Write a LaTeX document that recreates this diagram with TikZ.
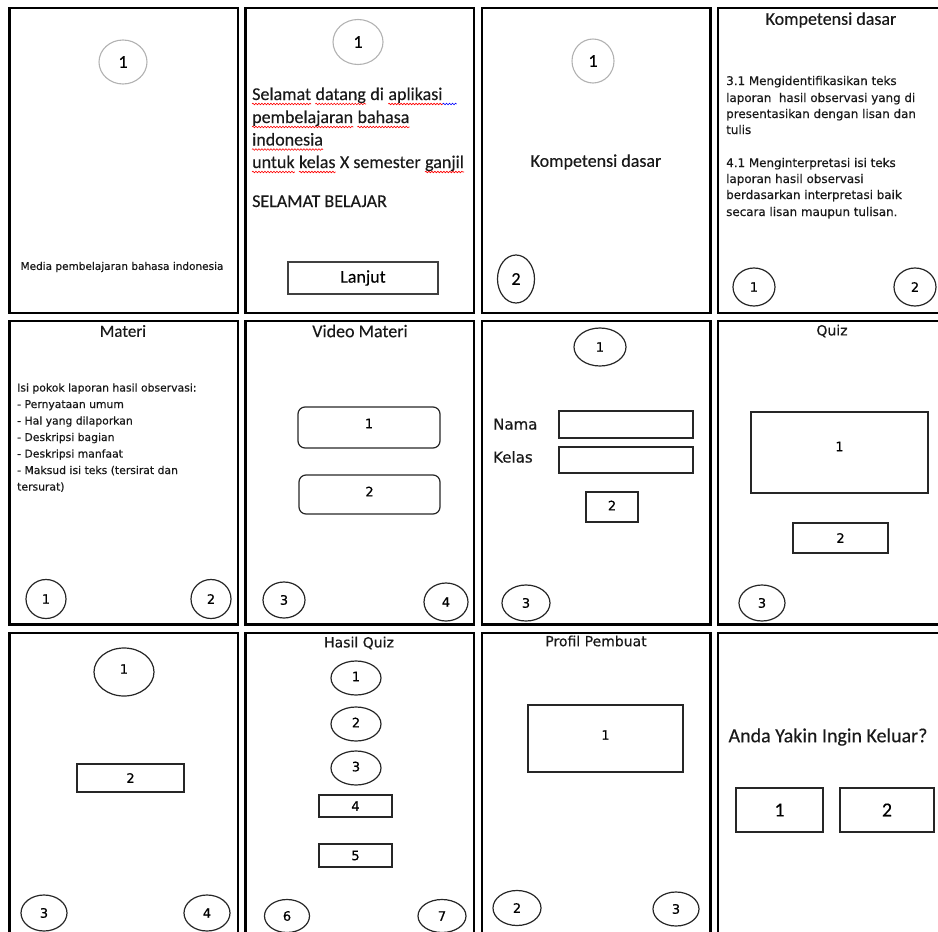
\documentclass[tikz,border=0pt]{standalone}
\usepackage{fontspec}
\setmainfont{Carlito}[FakeBold=0.25]
\newfontfamily\dvs{DejaVu Sans}[FakeBold=0.5]
\usetikzlibrary{shapes.geometric,decorations.pathmorphing}
\begin{document}
\begin{tikzpicture}[x=1pt,y=-1pt,
  frame/.style={draw=black, line width=2.8pt},
  sz/.style 2 args={minimum width=#1, minimum height=#2},
  gcirc/.style={ellipse, draw=black!30, line width=1.1pt, inner sep=0pt},
  bcirc/.style={ellipse, draw=black!85, line width=1.2pt, inner sep=0pt},
  box/.style={rectangle, draw=black!85, line width=1.2pt, inner sep=0pt},
  rbox/.style={rectangle, rounded corners=7pt, draw=black!85, line width=1.2pt, inner sep=0pt},
  cal/.style={font=\fontsize{18}{22}\selectfont},
  calb/.style={font=\fontsize{20}{24}\selectfont},
  dv/.style={font=\dvs\fontsize{13}{16}\selectfont},
  dvtitle/.style={font=\dvs\fontsize{14}{17}\selectfont},
  dvsmall/.style={font=\dvs\fontsize{11.9}{15}\selectfont},
  dvlist/.style={font=\dvs\fontsize{10.8}{14}\selectfont},
  txt/.style={inner sep=0pt, text=black!90},
  wword/.style={txt, cal, anchor=base west},
  raise/.style={text depth=#1},
  redwave/.style={red, line width=0.6pt, decorate, decoration={snake, amplitude=0.8pt, segment length=3pt}},
  bluewave/.style={redwave, blue},
]
\useasboundingbox (0,0) rectangle (938,932);
\clip (0,0) rectangle (938,932);
% frames
\draw[frame] (9.5,8) rectangle (238,313);
\draw[frame] (245.5,8) rectangle (474,313);
\draw[frame] (482,8) rectangle (710.5,313);
\draw[frame] (718,8) rectangle (950,313);
\draw[frame] (9.5,321) rectangle (238,624.5);
\draw[frame] (245.5,321) rectangle (474,624.5);
\draw[frame] (482,321) rectangle (710.5,624.5);
\draw[frame] (718,321) rectangle (950,624.5);
\draw[frame] (9.5,633) rectangle (238,950);
\draw[frame] (245.5,633) rectangle (474,950);
\draw[frame] (482,633) rectangle (710.5,950);
\draw[frame] (718,633) rectangle (950,950);

% Panel 1
\node[gcirc, sz={48}{44}, cal] (a1) at (123,62) {1};
\node[txt, font=\dvs\fontsize{10.5}{13}\selectfont] (atext) at (122,267) {Media pembelajaran bahasa indonesia};

% Panel 2
\node[gcirc, sz={50}{45}, cal] (b1) at (358,42) {1};
\node[wword] (w11) at (252,100) {Selamat};
\node[wword] (w12) at ([xshift=4.1pt]w11.base east) {datang};
\node[wword] (w13) at ([xshift=4.1pt]w12.base east) {di};
\node[wword] (w14) at ([xshift=4.1pt]w13.base east) {aplikasi};
\node[wword] (w21) at (252,123) {pembelajaran};
\node[wword] (w22) at ([xshift=4.1pt]w21.base east) {bahasa};
\node[wword] (w31) at (252,145.5) {indonesia};
\node[wword] (w41) at (252,168) {untuk};
\node[wword] (w42) at ([xshift=4.1pt]w41.base east) {kelas};
\node[wword] (w43) at ([xshift=4.1pt]w42.base east) {X semester};
\node[wword] (w44) at ([xshift=4.1pt]w43.base east) {ganjil};
\node[wword] (w51) at (252,207) {SELAMAT BELAJAR};
\foreach \w in {w11,w12,w14,w21,w22,w31,w41,w42,w44}
  \draw[redwave] ([yshift=-4pt]\w.base west) -- ([yshift=-4pt]\w.base east);
\draw[bluewave] ([yshift=-4pt]w14.base east) -- ++(14,0);
\node[box, sz={150}{32}, cal, draw=black!75, line width=1.4pt] (blanjut) at (363,278) {Lanjut};

% Panel 3
\node[gcirc, sz={42}{44}, cal] (c1) at (593,61) {1};
\node[txt, cal] (ctext) at (596,162) {Kompetensi dasar};
\node[bcirc, sz={37}{48}, cal] (c2) at (516,279) {2};

% Panel 4
\node[txt, cal] (dtitle) at (831,20) {Kompetensi dasar};
\node[txt, dvsmall, anchor=base west] (dl1) at (726,85) {3.1 Mengidentifikasikan teks};
\node[txt, dvsmall, anchor=base west] (dl2) at (726,102) {laporan\ \ hasil observasi yang di};
\node[txt, dvsmall, anchor=base west] (dl3) at (726,118) {presentasikan dengan lisan dan};
\node[txt, dvsmall, anchor=base west] (dl4) at (726,134) {tulis};
\node[txt, dvsmall, anchor=base west] (dl5) at (726,167) {4.1 Menginterpretasi isi teks};
\node[txt, dvsmall, anchor=base west] (dl6) at (726,183) {laporan hasil observasi};
\node[txt, dvsmall, anchor=base west] (dl7) at (726,199) {berdasarkan interpretasi baik};
\node[txt, dvsmall, anchor=base west] (dl8) at (726,216) {secara lisan maupun tulisan.};
\node[bcirc, sz={42}{38}, dv] (d1) at (754,287) {1};
\node[bcirc, sz={42}{38}, dv] (d2) at (915,287) {2};

% Panel 5
\node[txt, font=\fontsize{17}{20}\selectfont] (etitle) at (123,331) {Materi};
\node[txt, dvlist, anchor=base west] (el1) at (17,391.5) {Isi pokok laporan hasil observasi:};
\node[txt, dvlist, anchor=base west] (el2) at (17,408) {- Pernyataan umum};
\node[txt, dvlist, anchor=base west] (el3) at (17,424.5) {- Hal yang dilaporkan};
\node[txt, dvlist, anchor=base west] (el4) at (17,441) {- Deskripsi bagian};
\node[txt, dvlist, anchor=base west] (el5) at (17,457.5) {- Deskripsi manfaat};
\node[txt, dvlist, anchor=base west] (el6) at (17,474) {- Maksud isi teks (tersirat dan};
\node[txt, dvlist, anchor=base west] (el7) at (17,490.5) {tersurat)};
\node[bcirc, sz={40}{39}, dv] (e1) at (46,599) {1};
\node[bcirc, sz={40}{39}, dv] (e2) at (211,599) {2};

% Panel 6
\node[txt, cal] (ftitle) at (360,331) {Video Materi};
\node[rbox, sz={142}{41}, dv, raise=8pt] (f1) at (369,427.5) {1};
\node[rbox, sz={141}{39}, dv, raise=6pt] (f2) at (369.5,494.5) {2};
\node[bcirc, sz={42}{36}, dv] (f3) at (284,600) {3};
\node[bcirc, sz={44}{38}, dv] (f4) at (446,602) {4};

% Panel 7
\node[bcirc, sz={52}{38}, dv] (g1) at (600,347) {1};
\node[txt, font=\dvs\fontsize{15}{18}\selectfont, anchor=base west] (gnama) at (493,429.5) {Nama};
\node[txt, font=\dvs\fontsize{15}{18}\selectfont, anchor=base west] (gkelas) at (493,462.5) {Kelas};
\node[box, sz={134}{27}] (gnbox) at (626,424.5) {};
\node[box, sz={134}{26}] (gkbox) at (626,460) {};
\node[box, sz={52}{30}, dv, raise=3pt] (g2) at (612,507) {2};
\node[bcirc, sz={48}{36}, dv] (g3) at (526,603) {3};

% Panel 8
\node[txt, dvtitle] (htitle) at (832,331) {Quiz};
\node[box, sz={177}{81}, dv, raise=12pt] (h1) at (839.5,452.5) {1};
\node[box, sz={95}{30}, dv] (h2) at (840.5,538) {2};
\node[bcirc, sz={46}{36}, dv] (h3) at (762,603) {3};

% Panel 9
\node[bcirc, sz={60}{48}, dv, raise=6pt] (i1) at (124,672) {1};
\node[box, sz={107}{28}, dv] (i2) at (130.5,778) {2};
\node[bcirc, sz={46}{36}, dv] (i3) at (44,913) {3};
\node[bcirc, sz={46}{36}, dv] (i4) at (207,913) {4};

% Panel 10
\node[txt, dvtitle] (jtitle) at (359,643) {Hasil Quiz};
\node[bcirc, sz={50}{34}, dv, raise=3pt] (j1) at (356,678) {1};
\node[bcirc, sz={50}{34}, dv, raise=3pt] (j2) at (356,724) {2};
\node[bcirc, sz={50}{34}, dv, raise=3pt] (j3) at (356,768) {3};
\node[box, sz={73}{22}, dv] (j4) at (355.5,806) {4};
\node[box, sz={73}{23}, dv] (j5) at (355.5,855.5) {5};
\node[bcirc, sz={45}{33}, dv] (j6) at (287,916) {6};
\node[bcirc, sz={48}{33}, dv] (j7) at (442,916) {7};

% Panel 11
\node[txt, dvtitle] (ktitle) at (596,641) {Profil Pembuat};
\node[box, sz={155}{67}, dv, raise=7pt] (k1) at (605.5,738.5) {1};
\node[bcirc, sz={48}{35}, dv] (k2) at (517,908) {2};
\node[bcirc, sz={46}{34}, dv] (k3) at (676,909) {3};

% Panel 12
\node[txt, calb] (ltext) at (828,737) {Anda Yakin Ingin Keluar?};
\node[box, sz={87}{44}, calb] (l1) at (779.5,810) {1};
\node[box, sz={94}{44}, calb] (l2) at (887,810) {2};
\end{tikzpicture}
\end{document}
